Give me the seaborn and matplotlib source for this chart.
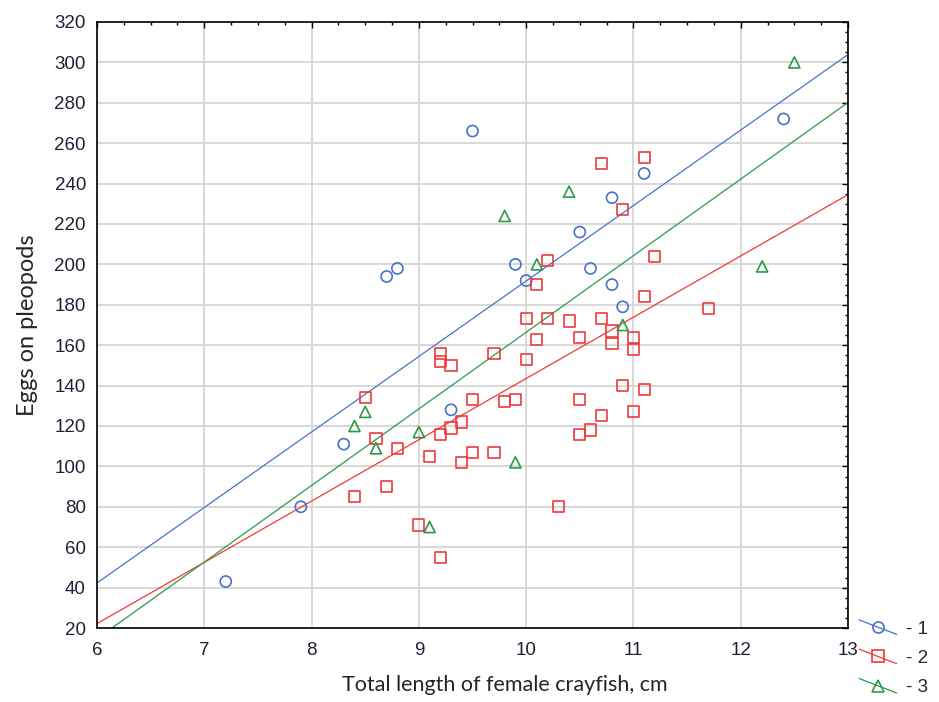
import numpy as np
import pandas as pd
import matplotlib
matplotlib.use("Agg")
import matplotlib.pyplot as plt
from matplotlib.ticker import MultipleLocator
from matplotlib.lines import Line2D
from matplotlib.legend_handler import HandlerLine2D
import seaborn as sns

# group 1 (blue circles)
x1 = [7.2, 7.9, 8.3, 8.7, 8.8, 9.3, 9.5, 9.9, 10.0, 10.5, 10.6, 10.8, 10.8, 10.9, 11.1, 12.4]
y1 = [43, 80, 111, 194, 198, 128, 266, 200, 192, 216, 198, 233, 190, 179, 245, 272]

# group 2 (red squares)
x2 = [8.4, 8.5, 8.6, 8.7, 8.8, 9.0, 9.1, 9.2, 9.2, 9.2, 9.2, 9.3, 9.3, 9.4, 9.4, 9.5,
      9.5, 9.7, 9.7, 9.8, 9.9, 10.0, 10.0, 10.1, 10.1, 10.2, 10.2, 10.3, 10.4, 10.5,
      10.5, 10.5, 10.6, 10.7, 10.7, 10.7, 10.8, 10.8, 10.9, 10.9, 11.0, 11.0, 11.0,
      11.1, 11.1, 11.1, 11.2, 11.7]
y2 = [85, 134, 114, 90, 109, 71, 105, 55, 156, 152, 116, 150, 119, 122, 102, 133,
      107, 156, 107, 132, 133, 173, 153, 190, 163, 202, 173, 80, 172, 164,
      133, 116, 118, 250, 173, 125, 167, 161, 227, 140, 164, 158, 127,
      253, 184, 138, 204, 178]

# group 3 (green triangles)
x3 = [8.4, 8.5, 8.6, 9.0, 9.1, 9.8, 9.9, 10.1, 10.4, 10.9, 12.2, 12.5]
y3 = [120, 127, 109, 117, 70, 224, 102, 200, 236, 170, 199, 300]

groups = ["1", "2", "3"]
colors = ["#4a72c4", "#ee3a3a", "#2a9a48"]
markers = ["o", "s", "^"]

df = pd.concat([
    pd.DataFrame({"length": x1, "eggs": y1, "group": "1"}),
    pd.DataFrame({"length": x2, "eggs": y2, "group": "2"}),
    pd.DataFrame({"length": x3, "eggs": y3, "group": "3"}),
], ignore_index=True)

sns.set_style("white")
plt.rcParams["font.family"] = ["Liberation Sans", "DejaVu Sans"]

fig = plt.figure(figsize=(9.39, 7.02), dpi=100)
ax = fig.add_axes([0.1033, 0.1054, 0.7998, 0.8633])
ax.set_xlim(6, 13)
ax.set_ylim(20, 320)

for g, c, m in zip(groups, colors, markers):
    sub = df[df["group"] == g]
    sns.regplot(data=sub, x="length", y="eggs", ax=ax, scatter=False, ci=None,
                truncate=False, color=c, line_kws={"lw": 0.9})
    ax.scatter(sub["length"], sub["eggs"], marker=m, s=64, facecolors="none",
               edgecolors=c, linewidths=1.2, zorder=3)

ax.set_xlim(6, 13)
ax.set_ylim(20, 320)
ax.xaxis.set_major_locator(MultipleLocator(1))
ax.xaxis.set_minor_locator(MultipleLocator(0.25))
ax.yaxis.set_major_locator(MultipleLocator(20))
ax.yaxis.set_minor_locator(MultipleLocator(5))
ax.grid(True, which="major", color="#d6d6d6", lw=1.3)
ax.set_axisbelow(True)
for s in ax.spines.values():
    s.set_color("black")
    s.set_linewidth(1.2)
ax.tick_params(which="both", direction="in", top=True, right=True, colors="black",
               labelcolor="#1e2235", labelsize=13.5)
ax.tick_params(which="major", length=4, width=1, pad=8)
ax.tick_params(axis="x", which="major", pad=10)
ax.tick_params(which="minor", length=2.5, width=1)

ax.set_xlabel("Total length of female crayfish, cm", fontsize=15.5,
              family=["Lato", "DejaVu Sans"])
ax.set_ylabel("Eggs on pleopods", fontsize=17,
              family=["Lato", "DejaVu Sans"], labelpad=12)
ax.xaxis.set_label_coords(0.543, -0.078)


class DiagHandler(HandlerLine2D):
    def create_artists(self, legend, orig_handle, xdescent, ydescent, width,
                       height, fontsize, trans):
        x0, x1_ = -xdescent, width - xdescent
        yc = height / 2 - ydescent
        line = Line2D([x0, x1_], [yc + height * 0.55, yc - height * 0.55],
                      color=orig_handle.get_color(), lw=0.9, transform=trans)
        mk = Line2D([(x0 + x1_) / 2], [yc], marker=orig_handle.get_marker(),
                    markersize=8, markerfacecolor="none",
                    markeredgecolor=orig_handle.get_color(), markeredgewidth=1.2,
                    linestyle="none", transform=trans)
        return [line, mk]


handles = [Line2D([], [], color=c, marker=m) for c, m in zip(colors, markers)]
fig.legend(handles, ["- " + g for g in groups], handler_map={Line2D: DiagHandler()},
           loc="upper left", bbox_to_anchor=(0.915, 0.116), frameon=False,
           fontsize=13.5, handlelength=2.0, handletextpad=0.5, labelspacing=0.65,
           borderaxespad=0, borderpad=0)

fig.savefig("out.png", dpi=100)
